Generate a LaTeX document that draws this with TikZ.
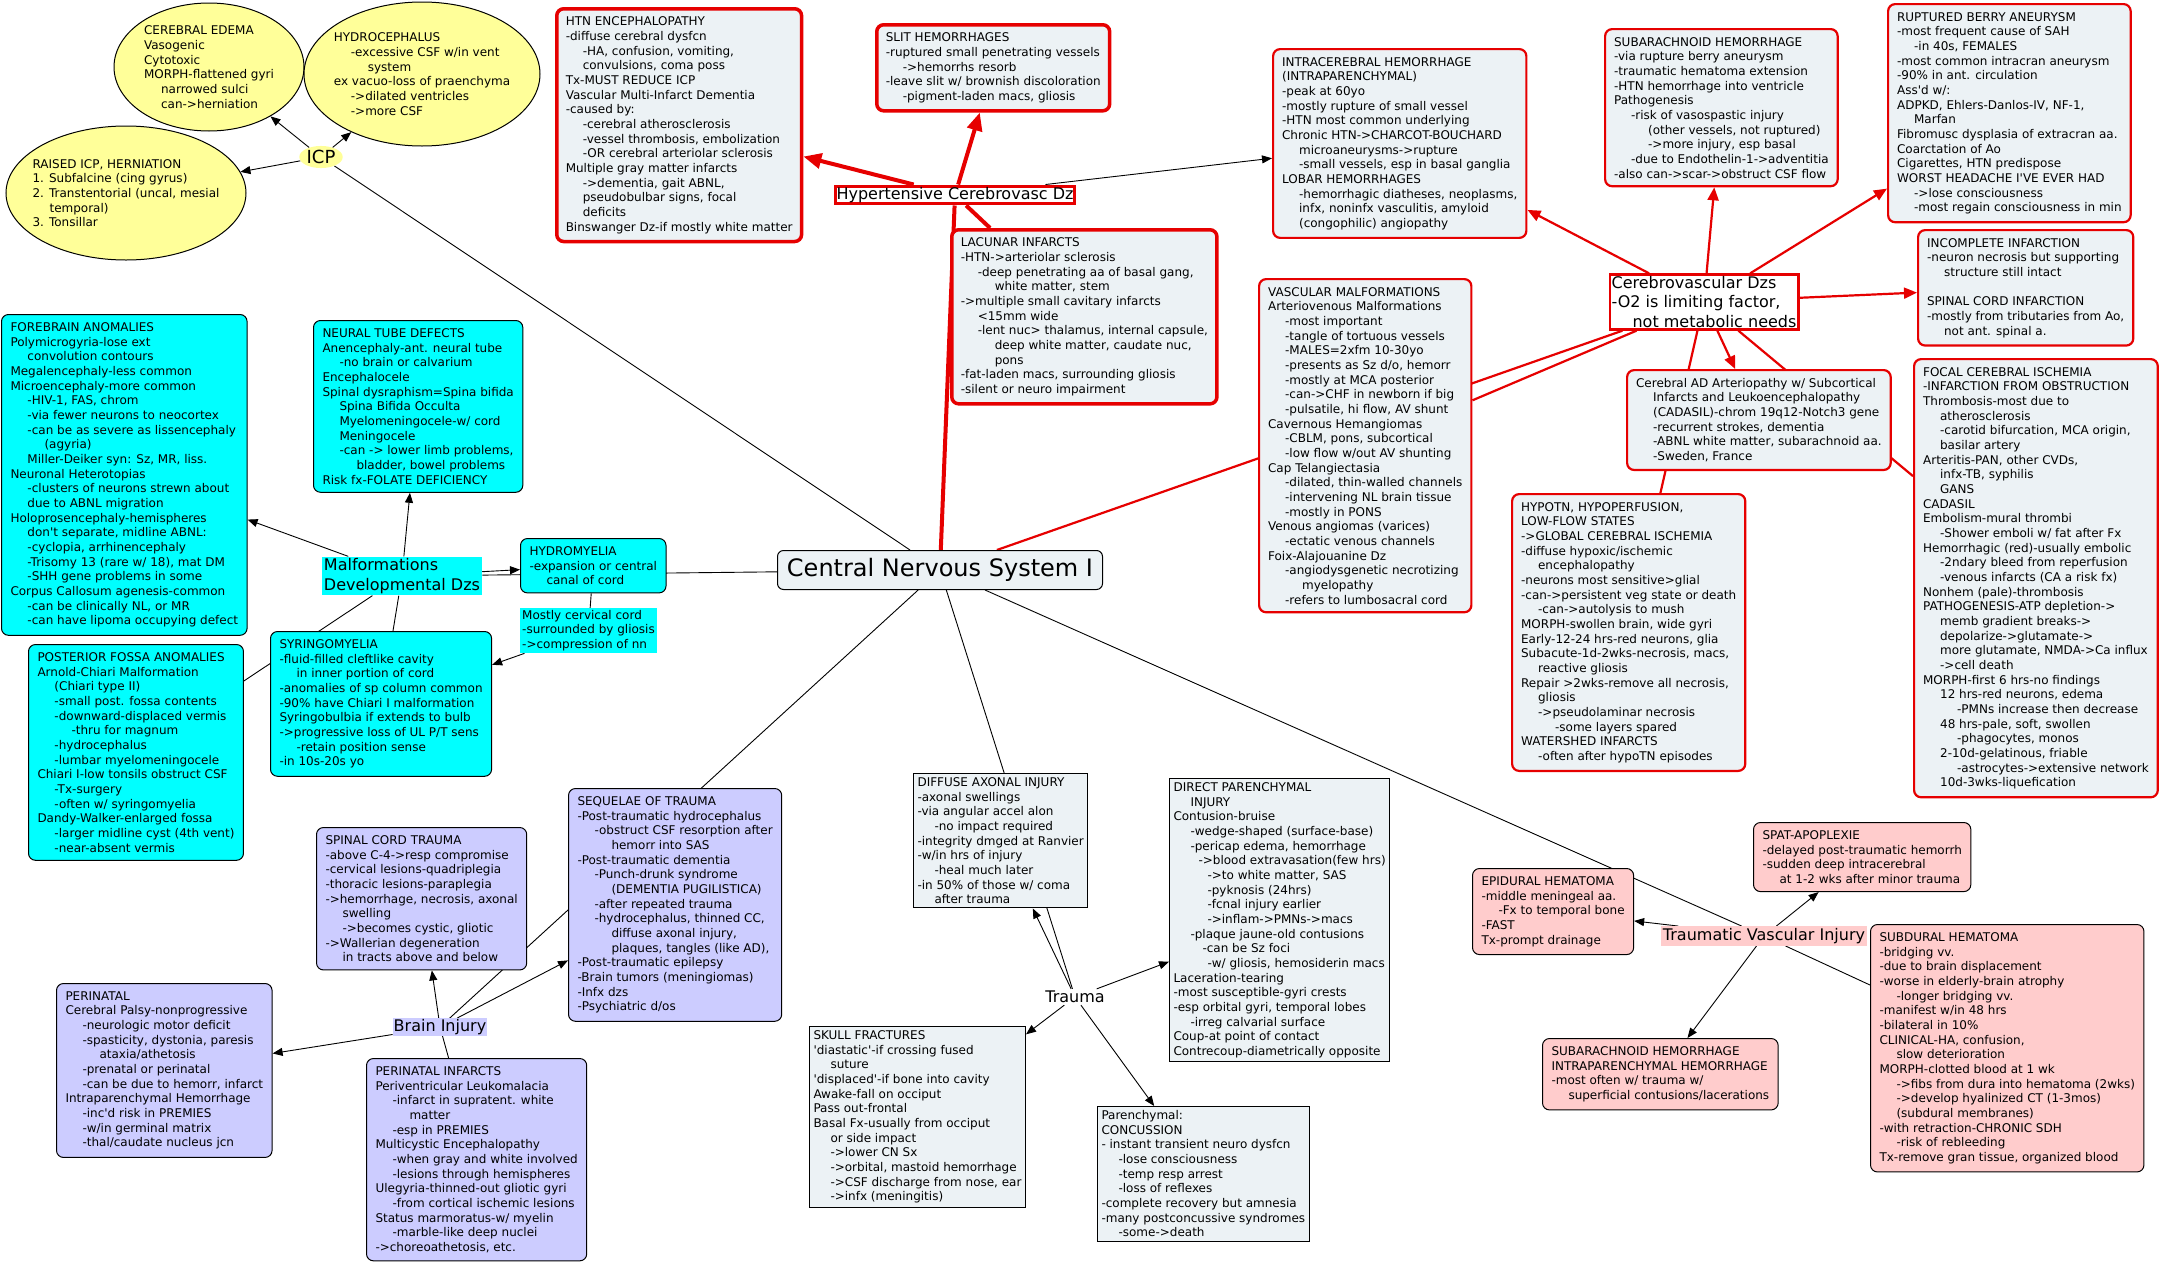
\documentclass[tikz,border=0pt]{standalone}
\usepackage{fontspec}
\setmainfont{DejaVu Sans}
\usepackage{tikz}
\usetikzlibrary{positioning,arrows.meta,shapes.geometric,backgrounds}
\definecolor{cmapgray}{HTML}{ECF2F5}
\definecolor{cmapcyan}{HTML}{00FFFF}
\definecolor{cmaplav}{HTML}{CCCCFF}
\definecolor{cmappink}{HTML}{FFCCCC}
\definecolor{cmapyellow}{HTML}{FFFF99}
\definecolor{cmapred}{HTML}{E60000}
\newcommand{\cmapnote}{\fontsize{12}{14.67}\selectfont}
\newcommand{\cmaphead}{\fontsize{16}{19.4}\selectfont}
\newcommand{\indA}{\hspace*{17pt}}
\newcommand{\indB}{\hspace*{34pt}}

\begin{document}
\begin{tikzpicture}[
    x=1pt, y=-1pt,
    box/.style={draw, rounded corners=7pt, fill=#1, align=left, anchor=north west, inner xsep=9pt, inner ysep=8pt, font=\cmapnote, line width=1pt},
    redbox/.style={box=cmapgray, draw=cmapred, line width=2.2pt},
    hotbox/.style={box=cmapgray, draw=cmapred, line width=3.5pt},
    sqbox/.style={draw, fill=cmapgray, align=left, anchor=north west, inner sep=4pt, font=\cmapnote, line width=1pt},
    bubble/.style={draw, ellipse, fill=cmapyellow, align=left, inner sep=0pt, font=\cmapnote, line width=1pt},
    topic/.style={font=\cmaphead, align=left, inner sep=2pt},
    arrow/.style={-{Triangle[length=10pt,width=8pt]}, line width=0.9pt},
    link/.style={line width=0.9pt},
    redarrow/.style={-{Triangle[length=13pt,width=11pt]}, draw=cmapred, line width=2.2pt},
    redlink/.style={draw=cmapred, line width=2.2pt},
    fatarrow/.style={-{Triangle[length=18pt,width=15pt]}, draw=cmapred, line width=4pt},
    fatlink/.style={draw=cmapred, line width=4pt},
]
\useasboundingbox (0,0) rectangle (2161,1264);

% centre
\node[draw, rounded corners=6pt, fill=cmapgray, font=\fontsize{24}{28}\selectfont, minimum width=325pt, minimum height=39pt, line width=1pt] (cns) at (940,570) {Central Nervous System I};

% ICP
\node[bubble, minimum width=190pt, minimum height=128pt] (edema) at (209,67) {CEREBRAL EDEMA\\Vasogenic\\Cytotoxic\\MORPH-flattened gyri\\\indA narrowed sulci\\\indA can->herniation};
\node[bubble, minimum width=236pt, minimum height=144pt, inner xsep=-8pt] (hydroceph) at (422,74) {HYDROCEPHALUS\\\indA -excessive CSF w/in vent\\\indB system\\ex vacuo-loss of praenchyma\\\indA ->dilated ventricles\\\indA ->more CSF};
\node[bubble, minimum width=240pt, minimum height=134pt, inner xsep=-12pt] (raised) at (126,193) {RAISED ICP, HERNIATION\\1. Subfalcine (cing gyrus)\\2. Transtentorial (uncal, mesial\\\indA temporal)\\3. Tonsillar};
\node[ellipse, fill=cmapyellow, inner sep=1pt, font=\fontsize{18}{21}\selectfont] (icp) at (321,157) {ICP};

% malformations
\node[box=cmapcyan] (forebrain) at (1,314) {FOREBRAIN ANOMALIES\\Polymicrogyria-lose ext\\\indA convolution contours\\Megalencephaly-less common\\Microencephaly-more common\\\indA -HIV-1, FAS, chrom\\\indA -via fewer neurons to neocortex\\\indA -can be as severe as lissencephaly\\\indB (agyria)\\\indA Miller-Deiker syn: Sz, MR, liss.\\Neuronal Heterotopias\\\indA -clusters of neurons strewn about\\\indA due to ABNL migration\\Holoprosencephaly-hemispheres\\\indA don\textquotesingle t separate, midline ABNL:\\\indA -cyclopia, arrhinencephaly\\\indA -Trisomy 13 (rare w/ 18), mat DM\\\indA -SHH gene problems in some\\Corpus Callosum agenesis-common\\\indA -can be clinically NL, or MR\\\indA -can have lipoma occupying defect};
\node[box=cmapcyan] (neuraltube) at (313,320) {NEURAL TUBE DEFECTS\\Anencephaly-ant. neural tube\\\indA -no brain or calvarium\\Encephalocele\\Spinal dysraphism=Spina bifida\\\indA Spina Bifida Occulta\\\indA Myelomeningocele-w/ cord\\\indA Meningocele\\\indA -can -> lower limb problems,\\\indB bladder, bowel problems\\Risk fx-FOLATE DEFICIENCY};
\node[topic, fill=cmapcyan] (malf) at (402,576) {Malformations\\Developmental Dzs};
\node[box=cmapcyan] (hydromyelia) at (520,538) {HYDROMYELIA\\-expansion or central\\\indA canal of cord};
\node[fill=cmapcyan, align=left, anchor=north west, inner sep=2pt, font=\cmapnote] (cervnote) at (520,608) {Mostly cervical cord\\-surrounded by gliosis\\->compression of nn};
\node[box=cmapcyan] (syringo) at (270,631) {SYRINGOMYELIA\\-fluid-filled cleftlike cavity\\\indA in inner portion of cord\\-anomalies of sp column common\\-90\% have Chiari I malformation\\Syringobulbia if extends to bulb\\->progressive loss of UL P/T sens\\\indA -retain position sense\\-in 10s-20s yo};
\node[box=cmapcyan] (postfossa) at (28,644) {POSTERIOR FOSSA ANOMALIES\\Arnold-Chiari Malformation\\\indA (Chiari type II)\\\indA -small post. fossa contents\\\indA -downward-displaced vermis\\\indB -thru for magnum\\\indA -hydrocephalus\\\indA -lumbar myelomeningocele\\Chiari I-low tonsils obstruct CSF\\\indA -Tx-surgery\\\indA -often w/ syringomyelia\\Dandy-Walker-enlarged fossa\\\indA -larger midline cyst (4th vent)\\\indA -near-absent vermis};

% hypertensive
\node[hotbox] (htnenc) at (555,7) {HTN ENCEPHALOPATHY\\-diffuse cerebral dysfcn\\\indA -HA, confusion, vomiting,\\\indA convulsions, coma poss\\Tx-MUST REDUCE ICP\\Vascular Multi-Infarct Dementia\\-caused by:\\\indA -cerebral atherosclerosis\\\indA -vessel thrombosis, embolization\\\indA -OR cerebral arteriolar sclerosis\\Multiple gray matter infarcts\\\indA ->dementia, gait ABNL,\\\indA pseudobulbar signs, focal\\\indA deficits\\Binswanger Dz-if mostly white matter};
\node[hotbox] (slit) at (875,23) {SLIT HEMORRHAGES\\-ruptured small penetrating vessels\\\indA ->hemorrhs resorb\\-leave slit w/ brownish discoloration\\\indA -pigment-laden macs, gliosis};
\node[topic, fill=white, draw=cmapred, line width=3.5pt, inner sep=1pt] (hcd) at (955,195) {Hypertensive Cerebrovasc Dz};
\node[hotbox] (lacunar) at (950,228) {LACUNAR INFARCTS\\-HTN->arteriolar sclerosis\\\indA -deep penetrating aa of basal gang,\\\indB white matter, stem\\->multiple small cavitary infarcts\\\indA <15mm wide\\\indA -lent nuc> thalamus, internal capsule,\\\indB deep white matter, caudate nuc,\\\indB pons\\-fat-laden macs, surrounding gliosis\\-silent or neuro impairment};

% cerebrovascular
\node[redbox] (intracer) at (1272,48) {INTRACEREBRAL HEMORRHAGE\\(INTRAPARENCHYMAL)\\-peak at 60yo\\-mostly rupture of small vessel\\-HTN most common underlying\\Chronic HTN->CHARCOT-BOUCHARD\\\indA microaneurysms->rupture\\\indA -small vessels, esp in basal ganglia\\LOBAR HEMORRHAGES\\\indA -hemorrhagic diatheses, neoplasms,\\\indA infx, noninfx vasculitis, amyloid\\\indA (congophilic) angiopathy};
\node[redbox] (subarach) at (1604,28) {SUBARACHNOID HEMORRHAGE\\-via rupture berry aneurysm\\-traumatic hematoma extension\\-HTN hemorrhage into ventricle\\Pathogenesis\\\indA -risk of vasospastic injury\\\indB (other vessels, not ruptured)\\\indB ->more injury, esp basal\\\indA -due to Endothelin-1->adventitia\\-also can->scar->obstruct CSF flow};
\node[redbox] (berry) at (1887,3) {RUPTURED BERRY ANEURYSM\\-most frequent cause of SAH\\\indA -in 40s, FEMALES\\-most common intracran aneurysm\\-90\% in ant. circulation\\Ass\textquotesingle d w/:\\ADPKD, Ehlers-Danlos-IV, NF-1,\\\indA Marfan\\Fibromusc dysplasia of extracran aa.\\Coarctation of Ao\\Cigarettes, HTN predispose\\WORST HEADACHE I\textquotesingle VE EVER HAD\\\indA ->lose consciousness\\\indA -most regain consciousness in min};
\node[redbox] (incomplete) at (1917,229) {INCOMPLETE INFARCTION\\-neuron necrosis but supporting\\\indA structure still intact\\[14.67pt]SPINAL CORD INFARCTION\\-mostly from tributaries from Ao,\\\indA not ant. spinal a.};
\node[topic, fill=white, draw=cmapred, line width=2.2pt] (cvd) at (1704,302) {Cerebrovascular Dzs\\-O2 is limiting factor,\\\hspace*{21pt}not metabolic needs};
\node[redbox] (vascmalf) at (1258,278) {VASCULAR MALFORMATIONS\\Arteriovenous Malformations\\\indA -most important\\\indA -tangle of tortuous vessels\\\indA -MALES=2xfm 10-30yo\\\indA -presents as Sz d/o, hemorr\\\indA -mostly at MCA posterior\\\indA -can->CHF in newborn if big\\\indA -pulsatile, hi flow, AV shunt\\Cavernous Hemangiomas\\\indA -CBLM, pons, subcortical\\\indA -low flow w/out AV shunting\\Cap Telangiectasia\\\indA -dilated, thin-walled channels\\\indA -intervening NL brain tissue\\\indA -mostly in PONS\\Venous angiomas (varices)\\\indA -ectatic venous channels\\Foix-Alajouanine Dz\\\indA -angiodysgenetic necrotizing\\\indB myelopathy\\\indA -refers to lumbosacral cord};
\node[redbox] (hypotn) at (1511,493) {HYPOTN, HYPOPERFUSION,\\LOW-FLOW STATES\\->GLOBAL CEREBRAL ISCHEMIA\\-diffuse hypoxic/ischemic\\\indA encephalopathy\\-neurons most sensitive>glial\\-can->persistent veg state or death\\\indA -can->autolysis to mush\\MORPH-swollen brain, wide gyri\\Early-12-24 hrs-red neurons, glia\\Subacute-1d-2wks-necrosis, macs,\\\indA reactive gliosis\\Repair >2wks-remove all necrosis,\\\indA gliosis\\\indA ->pseudolaminar necrosis\\\indB -some layers spared\\WATERSHED INFARCTS\\\indA -often after hypoTN episodes};
\node[redbox] (cadasil) at (1626,369) {Cerebral AD Arteriopathy w/ Subcortical\\\indA Infarcts and Leukoencephalopathy\\\indA (CADASIL)-chrom 19q12-Notch3 gene\\\indA -recurrent strokes, dementia\\\indA -ABNL white matter, subarachnoid aa.\\\indA -Sweden, France};
\node[redbox] (focal) at (1913,358) {FOCAL CEREBRAL ISCHEMIA\\-INFARCTION FROM OBSTRUCTION\\Thrombosis-most due to\\\indA atherosclerosis\\\indA -carotid bifurcation, MCA origin,\\\indA basilar artery\\Arteritis-PAN, other CVDs,\\\indA infx-TB, syphilis\\\indA GANS\\CADASIL\\Embolism-mural thrombi\\\indA -Shower emboli w/ fat after Fx\\Hemorrhagic (red)-usually embolic\\\indA -2ndary bleed from reperfusion\\\indA -venous infarcts (CA a risk fx)\\Nonhem (pale)-thrombosis\\PATHOGENESIS-ATP depletion->\\\indA memb gradient breaks->\\\indA depolarize->glutamate->\\\indA more glutamate, NMDA->Ca influx\\\indA ->cell death\\MORPH-first 6 hrs-no findings\\\indA 12 hrs-red neurons, edema\\\indB -PMNs increase then decrease\\\indA 48 hrs-pale, soft, swollen\\\indB -phagocytes, monos\\\indA 2-10d-gelatinous, friable\\\indB -astrocytes->extensive network\\\indA 10d-3wks-liquefication};

% brain injury
\node[box=cmaplav] (sequelae) at (568,788) {SEQUELAE OF TRAUMA\\-Post-traumatic hydrocephalus\\\indA -obstruct CSF resorption after\\\indB hemorr into SAS\\-Post-traumatic dementia\\\indA -Punch-drunk syndrome\\\indB (DEMENTIA PUGILISTICA)\\\indA -after repeated trauma\\\indA -hydrocephalus, thinned CC,\\\indB diffuse axonal injury,\\\indB plaques, tangles (like AD),\\-Post-traumatic epilepsy\\-Brain tumors (meningiomas)\\-Infx dzs\\-Psychiatric d/os};
\node[box=cmaplav] (spinal) at (316,827) {SPINAL CORD TRAUMA\\-above C-4->resp compromise\\-cervical lesions-quadriplegia\\-thoracic lesions-paraplegia\\->hemorrhage, necrosis, axonal\\\indA swelling\\\indA ->becomes cystic, gliotic\\->Wallerian degeneration\\\indA in tracts above and below};
\node[box=cmaplav] (perinatal) at (56,983) {PERINATAL\\Cerebral Palsy-nonprogressive\\\indA -neurologic motor deficit\\\indA -spasticity, dystonia, paresis\\\indB ataxia/athetosis\\\indA -prenatal or perinatal\\\indA -can be due to hemorr, infarct\\Intraparenchymal Hemorrhage\\\indA -inc\textquotesingle d risk in PREMIES\\\indA -w/in germinal matrix\\\indA -thal/caudate nucleus jcn};
\node[topic, fill=cmaplav, inner sep=1pt] (brain) at (440,1027) {Brain Injury};
\node[box=cmaplav] (perinf) at (366,1058) {PERINATAL INFARCTS\\Periventricular Leukomalacia\\\indA -infarct in supratent. white\\\indB matter\\\indA -esp in PREMIES\\Multicystic Encephalopathy\\\indA -when gray and white involved\\\indA -lesions through hemispheres\\Ulegyria-thinned-out gliotic gyri\\\indA -from cortical ischemic lesions\\Status marmoratus-w/ myelin\\\indA -marble-like deep nuclei\\->choreoathetosis, etc.};

% trauma
\node[sqbox] (dai) at (913,773) {DIFFUSE AXONAL INJURY\\-axonal swellings\\-via angular accel alon\\\indA -no impact required\\-integrity dmged at Ranvier\\-w/in hrs of injury\\\indA -heal much later\\-in 50\% of those w/ coma\\\indA after trauma};
\node[topic] (trauma) at (1075,997) {Trauma};
\node[sqbox] (skull) at (809,1026) {SKULL FRACTURES\\\textquotesingle diastatic\textquotesingle -if crossing fused\\\indA suture\\\textquotesingle displaced\textquotesingle -if bone into cavity\\Awake-fall on occiput\\Pass out-frontal\\Basal Fx-usually from occiput\\\indA or side impact\\\indA ->lower CN Sx\\\indA ->orbital, mastoid hemorrhage\\\indA ->CSF discharge from nose, ear\\\indA ->infx (meningitis)};
\node[sqbox] (direct) at (1169,778) {DIRECT PARENCHYMAL\\\indA INJURY\\Contusion-bruise\\\indA -wedge-shaped (surface-base)\\\indA -pericap edema, hemorrhage\\\hspace*{25pt}->blood extravasation(few hrs)\\\indB ->to white matter, SAS\\\indB -pyknosis (24hrs)\\\indB -fcnal injury earlier\\\indB ->inflam->PMNs->macs\\\indA -plaque jaune-old contusions\\\hspace*{29pt}-can be Sz foci\\\indB -w/ gliosis, hemosiderin macs\\Laceration-tearing\\-most susceptible-gyri crests\\-esp orbital gyri, temporal lobes\\\indA -irreg calvarial surface\\Coup-at point of contact\\Contrecoup-diametrically opposite};
\node[sqbox] (concussion) at (1097,1106) {Parenchymal:\\CONCUSSION\\- instant transient neuro dysfcn\\\indA -lose consciousness\\\indA -temp resp arrest\\\indA -loss of reflexes\\-complete recovery but amnesia\\-many postconcussive syndromes\\\indA -some->death};

% traumatic vascular
\node[box=cmappink] (epidural) at (1472,868) {EPIDURAL HEMATOMA\\-middle meningeal aa.\\\indA -Fx to temporal bone\\-FAST\\Tx-prompt drainage};
\node[box=cmappink] (spat) at (1753,822) {SPAT-APOPLEXIE\\-delayed post-traumatic hemorrh\\-sudden deep intracerebral\\\indA at 1-2 wks after minor trauma};
\node[box=cmappink] (tsubarach) at (1542,1038) {SUBARACHNOID HEMORRHAGE\\INTRAPARENCHYMAL HEMORRHAGE\\-most often w/ trauma w/\\\indA superficial contusions/lacerations};
\node[topic, fill=cmappink] (tvi) at (1764,936) {Traumatic Vascular Injury};
\node[box=cmappink] (subdural) at (1870,924) {SUBDURAL HEMATOMA\\-bridging vv.\\-due to brain displacement\\-worse in elderly-brain atrophy\\\indA -longer bridging vv.\\-manifest w/in 48 hrs\\-bilateral in 10\%\\CLINICAL-HA, confusion,\\\indA slow deterioration\\MORPH-clotted blood at 1 wk\\\indA ->fibs from dura into hematoma (2wks)\\\indA ->develop hyalinized CT (1-3mos)\\\indA (subdural membranes)\\-with retraction-CHRONIC SDH\\\indA -risk of rebleeding\\Tx-remove gran tissue, organized blood};

% connectors
\begin{scope}[on background layer]
\fill[white] (0,0) rectangle (2161,1264);
\draw[link] (cns) -- (icp);
\draw[arrow] (icp) -- (edema);
\draw[arrow] (icp) -- (hydroceph);
\draw[arrow] (icp) -- (raised);
\draw[link] (cns) -- (malf);
\draw[arrow] (malf) -- (forebrain);
\draw[arrow] (malf) -- (neuraltube);
\draw[arrow] (malf) -- (hydromyelia);
\draw[link] (malf) -- (syringo);
\draw[link] (malf) -- (postfossa);
\draw[link] (hydromyelia) -- (cervnote);
\draw[arrow] (cervnote) -- (syringo);
\draw[fatlink] (cns) -- (hcd);
\draw[fatarrow] (hcd) -- (htnenc);
\draw[fatarrow] (hcd) -- (slit);
\draw[fatlink] (hcd) -- (lacunar);
\draw[arrow] (hcd) -- (intracer);
\draw[redlink] (cns) -- (cvd);
\draw[redarrow] (cvd) -- (intracer);
\draw[redarrow] (cvd) -- (subarach);
\draw[redarrow] (cvd) -- (berry);
\draw[redarrow] (cvd) -- (incomplete);
\draw[redarrow] (cvd) -- (cadasil);
\draw[redlink] (cvd) -- (vascmalf);
\draw[redlink] (cvd) -- (hypotn);
\draw[redlink] (cvd) -- (focal);
\draw[link] (cns) -- (brain);
\draw[arrow] (brain) -- (spinal);
\draw[arrow] (brain) -- (perinatal);
\draw[arrow] (brain) -- (sequelae);
\draw[link] (brain) -- (perinf);
\draw[link] (cns) -- (trauma);
\draw[arrow] (trauma) -- (dai);
\draw[arrow] (trauma) -- (skull);
\draw[arrow] (trauma) -- (direct);
\draw[arrow] (trauma) -- (concussion);
\draw[link] (cns) -- (tvi);
\draw[arrow] (tvi) -- (epidural);
\draw[arrow] (tvi) -- (spat);
\draw[arrow] (tvi) -- (tsubarach);
\draw[link] (tvi) -- (subdural);
\end{scope}

\end{tikzpicture}
\end{document}
